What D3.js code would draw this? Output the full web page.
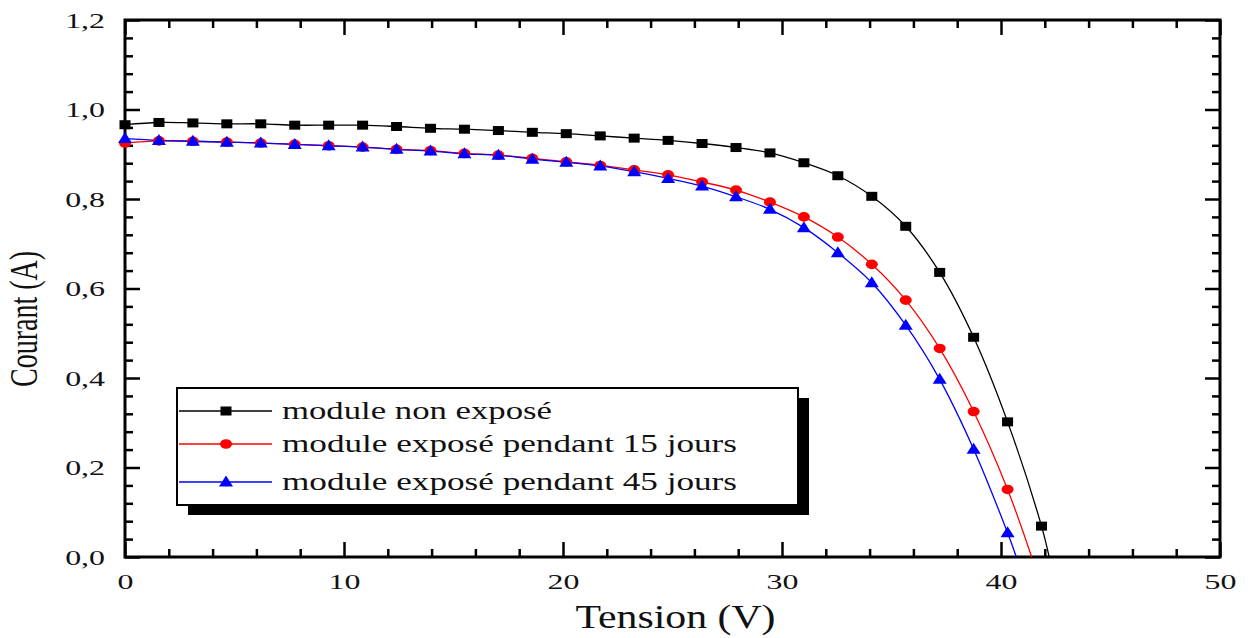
<!DOCTYPE html>
<meta charset="utf-8">
<style>
body { margin: 0; background: #fff; overflow: hidden; }
svg { display: block; background: #fff; }
text { font-family: "Liberation Serif", "Times New Roman", serif; fill: #111; }
.frame { fill: none; stroke: #000; stroke-width: 3; }
.tick line { stroke: #000; stroke-width: 2.5; }
.domain { display: none; }
.curve { fill: none; stroke-width: 1.3; }
</style>
<body>
<div id="chart"></div>
<script src="https://cdn.jsdelivr.net/npm/d3@7"></script>
<script>

const tension = [0, 1.55, 3.1, 4.65, 6.2, 7.75, 9.3, 10.85, 12.4, 13.95, 15.5, 17.05, 18.6, 20.15,
  21.7, 23.25, 24.8, 26.35, 27.9, 29.45, 31.0, 32.55, 34.1, 35.65, 37.2, 38.75, 40.3, 41.85];

const nonExpose = [0.966, 0.971, 0.970, 0.968, 0.968, 0.965, 0.965, 0.965, 0.962, 0.958, 0.956, 0.953,
  0.949, 0.946, 0.941, 0.936, 0.931, 0.924, 0.915, 0.903, 0.881, 0.852, 0.806, 0.739, 0.636, 0.491, 0.302, 0.069];
const expose15 = [0.925, 0.930, 0.929, 0.927, 0.925, 0.922, 0.919, 0.916, 0.911, 0.908, 0.902, 0.898,
  0.891, 0.883, 0.875, 0.865, 0.854, 0.838, 0.820, 0.793, 0.760, 0.715, 0.654, 0.574, 0.466, 0.325, 0.151];
const expose45 = [0.935, 0.931, 0.929, 0.927, 0.925, 0.922, 0.919, 0.916, 0.911, 0.907, 0.901, 0.898,
  0.889, 0.882, 0.874, 0.861, 0.846, 0.829, 0.805, 0.777, 0.736, 0.680, 0.613, 0.518, 0.397, 0.241, 0.054];

// open circuit voltage where each curve meets I = 0
const voc = [42.2, 41.4, 40.7];

const seriesNames = ["module non exposé", "module exposé pendant 15 jours", "module exposé pendant 45 jours"];
const seriesColors = ["#000000", "#ff0000", "#0000ff"];
const seriesShapes = ["square", "circle", "triangle"];

const xTicks = [0, 10, 20, 30, 40, 50];
const yTicks = [0, 0.2, 0.4, 0.6, 0.8, 1.0, 1.2];

// layout
var W = 1252, H = 638;
var margin = {top: 20, right: 32, bottom: 81, left: 125},
    width = W - margin.left - margin.right,
    height = H - margin.top - margin.bottom;

const x = d3.scaleLinear().domain([0, 50]).range([0, width]);
const y = d3.scaleLinear().domain([0, 1.2]).range([height, 0]);

var svg = d3.select("#chart").append("svg")
    .attr("width", W)
    .attr("height", H);

var g = svg.append("g")
    .attr("transform", "translate(" + margin.left + "," + margin.top + ")");

const fmt = d => d3.format(".1f")(d).replace(".", ",");
const xMinor = d3.range(0, 50.01, 2).filter(v => v % 10 !== 0);
const yMinor = d3.range(0, 1.2001, 0.04).filter(v => Math.abs(v * 5 - Math.round(v * 5)) > 1e-6);

// stretch text horizontally (the source figure is wider than it is tall)
function stretch(sel, f) {
  sel.each(function() {
    var w = this.getComputedTextLength();
    d3.select(this).attr("textLength", w * f).attr("lengthAdjust", "spacingAndGlyphs");
  });
}

// minor ticks, all four sides
g.append("g").attr("transform", `translate(0,${height})`)
  .call(d3.axisBottom(x).tickValues(xMinor).tickSizeInner(-8).tickSizeOuter(0).tickFormat(""));
g.append("g")
  .call(d3.axisTop(x).tickValues(xMinor).tickSizeInner(-8).tickSizeOuter(0).tickFormat(""));
g.append("g")
  .call(d3.axisLeft(y).tickValues(yMinor).tickSizeInner(-8).tickSizeOuter(0).tickFormat(""));
g.append("g").attr("transform", `translate(${width},0)`)
  .call(d3.axisRight(y).tickValues(yMinor).tickSizeInner(-8).tickSizeOuter(0).tickFormat(""));

// major ticks
var xAxis = g.append("g").attr("transform", `translate(0,${height})`)
  .call(d3.axisBottom(x).tickValues(xTicks).tickSizeInner(-15).tickSizeOuter(0).tickPadding(16).tickFormat(d3.format("d")));
g.append("g")
  .call(d3.axisTop(x).tickValues(xTicks).tickSizeInner(-15).tickSizeOuter(0).tickFormat(""));
var yAxis = g.append("g")
  .call(d3.axisLeft(y).tickValues(yTicks).tickSizeInner(-15).tickSizeOuter(0).tickPadding(20).tickFormat(fmt));
g.append("g").attr("transform", `translate(${width},0)`)
  .call(d3.axisRight(y).tickValues(yTicks).tickSizeInner(-15).tickSizeOuter(0).tickFormat(""));

g.selectAll(".tick text")
  .style("font-family", "'Liberation Serif', serif")
  .style("font-size", "22px")
  .attr("fill", "#111");
stretch(g.selectAll(".tick text"), 1.45);

g.append("rect").attr("class", "frame")
  .attr("width", width).attr("height", height);

// curves
const series = [nonExpose, expose15, expose45].map((vals, i) => ({
  name: seriesNames[i],
  color: seriesColors[i],
  shape: seriesShapes[i],
  points: vals.map((v, k) => ({v: tension[k], i: v})),
  end: {v: voc[i], i: 0}
}));

var line = d3.line()
  .x(d => x(d.v))
  .y(d => y(d.i))
  .curve(d3.curveCatmullRom.alpha(0.5));

function drawMarker(sel, shape, color) {
  if (shape === "square") {
    sel.append("rect").attr("x", -5.5).attr("y", -4.5).attr("width", 11).attr("height", 9).attr("fill", color);
  } else if (shape === "circle") {
    sel.append("ellipse").attr("rx", 6).attr("ry", 4.8).attr("fill", color);
  } else {
    sel.append("path").attr("d", "M0,-6.5L7,4.5L-7,4.5Z").attr("fill", color);
  }
}

series.forEach(s => {
  g.append("path")
    .attr("class", "curve")
    .attr("stroke", s.color)
    .attr("d", line(s.points.concat([s.end])));
});

series.forEach(s => {
  g.append("g").selectAll("g")
    .data(s.points)
    .enter().append("g")
      .attr("transform", d => `translate(${x(d.v)},${y(d.i)})`)
      .each(function() { drawMarker(d3.select(this), s.shape, s.color); });
});

// legend
var lg = svg.append("g").attr("transform", "translate(177,388)");
lg.append("rect").attr("x", 11).attr("y", 10).attr("width", 621).attr("height", 117).attr("fill", "#000");
lg.append("rect").attr("width", 621).attr("height", 117).attr("fill", "#fff").attr("stroke", "#000").attr("stroke-width", 2);

const rowY = [23, 56, 94];
const legendWidths = [270, 455, 455];
series.forEach((s, i) => {
  var row = lg.append("g").attr("transform", `translate(0,${rowY[i]})`);
  row.append("line").attr("x1", 2).attr("x2", 95).attr("stroke", s.color).attr("stroke-width", 1.3);
  var m = row.append("g").attr("transform", "translate(49,0)");
  drawMarker(m, s.shape, s.color);
  row.append("text")
    .attr("x", 105).attr("y", 8)
    .style("font-size", "25px")
    .attr("textLength", legendWidths[i])
    .attr("lengthAdjust", "spacingAndGlyphs")
    .text(s.name);
});

// axis titles
svg.append("text")
  .attr("x", margin.left + x(25) + 3).attr("y", 628)
  .attr("text-anchor", "middle")
  .style("font-size", "33px")
  .attr("textLength", 200)
  .attr("lengthAdjust", "spacingAndGlyphs")
  .text("Tension (V)");

svg.append("text")
  .attr("transform", "translate(37,319) scale(1.4,1) rotate(-90)")
  .attr("text-anchor", "middle")
  .style("font-size", "28px")
  .text("Courant (A)");

</script>
</body>
